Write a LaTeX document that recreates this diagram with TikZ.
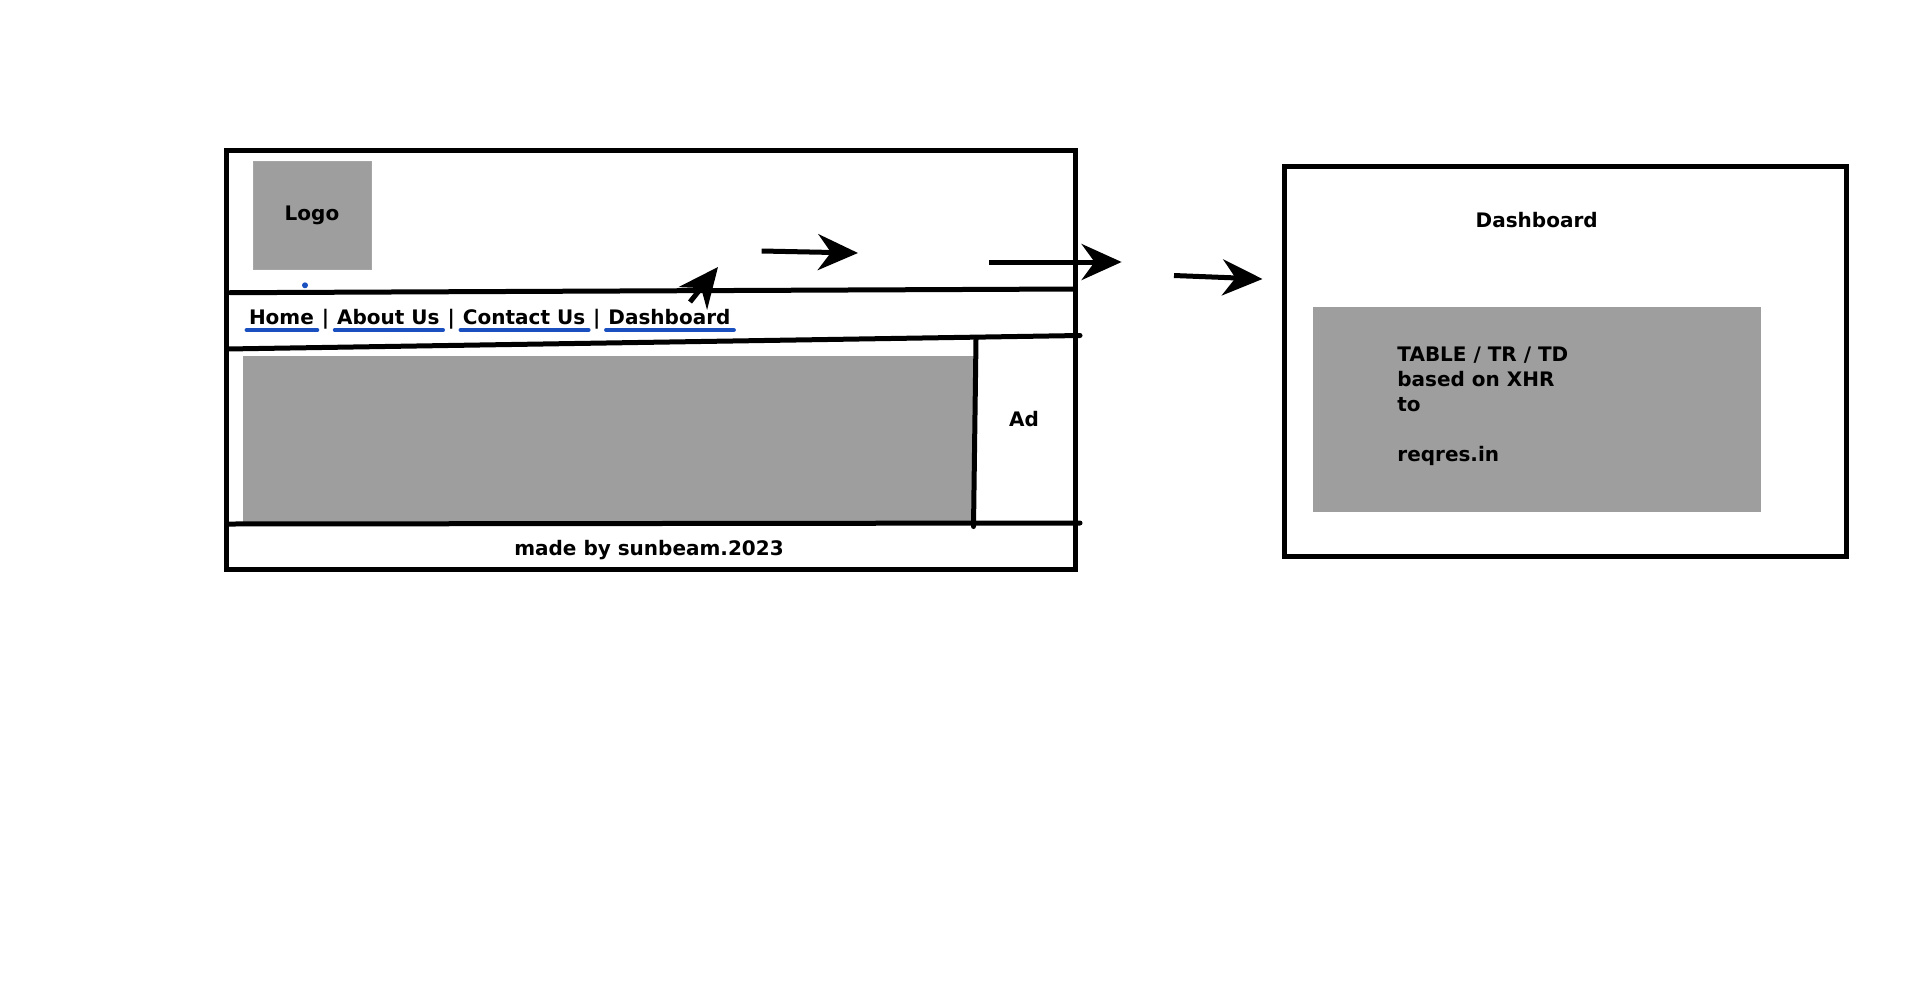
\documentclass[tikz,border=0pt]{standalone}
\usepackage{fontspec}
\setmainfont{DejaVu Sans}
\usetikzlibrary{arrows.meta,positioning,calc}
\definecolor{panelgray}{HTML}{9E9E9E}
\definecolor{linkblue}{HTML}{1A4FBF}
\tikzset{
  pen/.style={line width=2.5pt, line cap=round},
  sketcharrow/.style={line width=2.5pt, -{Stealth[length=20pt,width=18pt,inset=6.5pt]}},
  panel/.style={fill=panelgray, draw=gray!70, line width=0.4pt},
  txt/.style={font=\bfseries\fontsize{10}{12.5}\selectfont, inner sep=0pt},
  navlink/.style={txt, anchor=base west},
  navbar/.style={txt, anchor=base west, inner xsep=3.6pt},
  linkline/.style={linkblue, line width=2pt, line cap=round},
}
\begin{document}
\begin{tikzpicture}[x=0.5pt,y=-0.5pt]
  \useasboundingbox (0,0) rectangle (1920,991);

  % Home page frame
  \draw[pen] (226.5,150.6) rectangle (1075,569.4);
  \fill[panel] (253.5,161.6) rectangle (371,269.4);
  \node[txt] (logo) at (312,215.5) {Logo};
  \fill[linkblue] (305,285.3) circle (3);

  % Header and menu separators
  \draw[pen] (230,292.7) -- (1075,289);
  \draw[pen] (226.5,349) -- (1080,335.5);

  % Content, ad column and footer
  \fill[panelgray] (242.5,356.3) rectangle (973.5,524);
  \draw[pen] (976,339) -- (973.5,526.5);
  \draw[pen] (226.5,524) -- (1080,523);
  \node[txt] (ad) at (1024,419) {Ad};
  \node[txt] (footer) at (649,550) {made by sunbeam.2023};

  % Menu links
  \node[navlink] (home) at (248.6,324) {Home};
  \node[navbar] (bar1) at (home.base east) {|};
  \node[navlink] (about) at (bar1.base east) {About Us};
  \node[navbar] (bar2) at (about.base east) {|};
  \node[navlink] (contact) at (bar2.base east) {Contact Us};
  \node[navbar] (bar3) at (contact.base east) {|};
  \node[navlink] (dash) at (bar3.base east) {Dashboard};
  \foreach \n in {home,about,contact,dash}
    \draw[linkline] ($(\n.base west)+(-2,6)$) -- ($(\n.base east)+(3,6)$);

  % Dashboard page
  \draw[pen] (1284.5,166.5) rectangle (1846.5,556);
  \node[txt] (dashtitle) at (1536.7,220.4) {Dashboard};
  \fill[panelgray] (1312.7,307.3) rectangle (1760.8,511.8);
  \node[txt, align=left, anchor=west] (tabletxt) at (1397,406)
    {TABLE / TR / TD\\based on XHR\\to\\[12.5pt]reqres.in};

  % Arrows
  \coordinate (s1) at (690,302);    \coordinate (e1) at (718,267);
  \coordinate (s2) at (761.6,251);  \coordinate (e2) at (858,253);
  \coordinate (s3) at (989.4,262);  \coordinate (e3) at (1121.6,262);
  \coordinate (s4) at (1174,275.5); \coordinate (e4) at (1262.5,279);
  \foreach \n in {1,...,4}
    \draw[sketcharrow] (s\n) -- (e\n);
\end{tikzpicture}
\end{document}
